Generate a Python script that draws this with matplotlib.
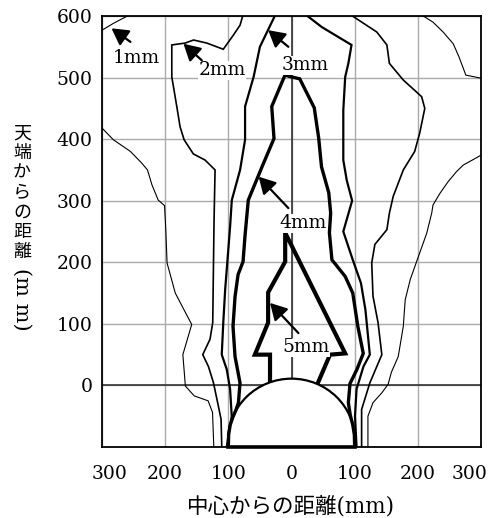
import matplotlib
matplotlib.use('Agg')
import matplotlib.pyplot as plt
from matplotlib.patches import Ellipse
from matplotlib.transforms import ScaledTranslation

plt.rcParams['font.family'] = ['DejaVu Serif', 'Noto Sans CJK JP']

# ---------------- data (mm) ----------------
x_ticks = [-300, -200, -100, 0, 100, 200, 300]
x_tick_labels = ['300', '200', '100', '0', '100', '200', '300']
y_ticks = [-100, 0, 100, 200, 300, 400, 500, 600]
y_tick_labels = ['', '0', '100', '200', '300', '400', '500', '600']

# 1mm contour (several pieces)
c1_corner_x = [-300, -282, -258]
c1_corner_y = [577, 588, 601]
c1_left_x = [-300, -282, -255, -237, -228, -221, -211, -201, -199, -197, -184, -158, -172, -168, -154, -132, -125, -123]
c1_left_y = [418, 399, 380, 361, 350, 326, 301, 292, 253, 199, 150, 99, 50, -1, -17, -25, -44, -100]
c1_rtop_x = [207, 224, 240, 256, 265, 276, 300]
c1_rtop_y = [601, 590, 574, 555, 534, 504, 499]
c1_right_x = [300, 288, 272, 261, 248, 235, 224, 222, 214, 198, 188, 180, 177, 169, 158, 153, 143, 129, 121, 121]
c1_right_y = [374, 367, 358, 347, 331, 312, 293, 280, 247, 201, 172, 139, 96, 47, 21, 2, -12, -28, -50, -100]

# 2mm contour
c2_left_x = [-77, -81.5, -92, -108, -134, -155, -168.5, -189.5, -189.5, -181.6, -176.4, -170, -155.4,
             -136.8, -121, -122.6, -124.7, -129, -140.5, -131.6, -123.7, -116.3, -111.5, -110.4]
c2_left_y = [601, 585, 569, 546, 556, 561, 556, 553, 501, 453, 420, 399, 376,
             366, 350, 269, 102, 75, 50, 31, 5, -31, -55, -100]
c2_right_x = [95, 135, 151, 155, 177, 206, 211, 203, 195, 177, 161, 155, 151, 132, 127, 129, 137, 143, 124, 111, 111]
c2_right_y = [601, 574, 553, 523, 496, 469, 450, 410, 380, 350, 307, 280, 253, 229, 199, 145, 102, 50, 4, -39, -100]

# 3mm contour
c3_left_x = [-26, -50, -60, -73.5, -73.5, -81.4, -94.5, -97.2, -105, -108, -110.4, -102.5, -97.2, -94.6, -102.5]
c3_left_y = [601, 550, 501, 453, 399, 350, 301, 258, 156, 102, 50, 26, -6, -50, -100]
c3_right_x = [24, 48, 95, 90, 85, 82, 82, 87.5, 96, 82, 97, 110, 117, 124, 114, 103, 100.5, 103]
c3_right_y = [601, 582, 553, 523, 501, 447, 366, 333, 300, 250, 204, 166, 123, 50, 31, -6, -50, -100]

# 4mm contour
c4_x = [-100, -99.5, -97, -93, -88, -84, -81.5, -84.6, -89.4, -92.6, -89.4, -84.6, -76.7, -73.6, -68.4,
        -46.7, -27.7, -31.3, -10.3, 0, 13, 36, 43, 47.5, 59, 62, 60, 64, 85, 97, 105, 113.6, 103.6,
        92.6, 90, 93, 97, 99.5, 100]
c4_y = [-100, -80, -64, -52, -40, -28, 4, 21, 47, 96, 144, 180, 201, 243, 301,
        355, 401, 453, 504, 501, 498, 451, 402, 355, 313, 280, 248, 204, 177, 150, 96, 52, 26,
        3, -28, -48, -64, -80, -100]

# 5mm contour
c5_x = [-34, -34, -58, -37, -37, -10, -10, 85, 61, 38]
c5_y = [-5, 50, 50, 102, 151, 201, 248, 52, 50, -5]

# labels (text position, arrow tail, arrow head)
lab_text = ['1mm', '2mm', '3mm', '4mm', '5mm']
lab_x = [-246, -110, 21, 18, 23]
lab_y = [532, 512, 520, 263, 62]
arr_tail_x = [-255, -142, -5, -5, 11]
arr_tail_y = [558, 528, 550, 288, 85]
arr_head_x = [-285, -171, -37, -52, -34]
arr_head_y = [580, 555, 577, 339, 134]

# ---------------- figure ----------------
fig = plt.figure(figsize=(4.99, 5.18), dpi=100)
ax = fig.add_axes([102 / 499, 1 - 447 / 518, 379 / 499, 431 / 518])
ax.set_xlim(-300, 300)
ax.set_ylim(-100, 600)
ax.set_xticks(x_ticks)
ax.set_xticklabels(x_tick_labels)
ax.set_yticks(y_ticks)
ax.set_yticklabels(y_tick_labels)
ax.set_axisbelow(True)
ax.grid(color='#aaaaaa', lw=1.0)
ax.axhline(0, color='#333333', lw=1.2, zorder=1)
ax.axvline(0, color='#333333', lw=1.2, zorder=1)
ax.tick_params(axis='both', length=0, labelsize=13.5)
ax.tick_params(axis='x', pad=13)
ax.tick_params(axis='y', pad=7)
for sp in ax.spines.values():
    sp.set_linewidth(1.3)
    sp.set_color('black')

# shift end x tick labels inward like the reference
xl = ax.get_xticklabels()
xl[0].set_transform(xl[0].get_transform() + ScaledTranslation(8 / 100, 0, fig.dpi_scale_trans))
xl[-1].set_transform(xl[-1].get_transform() + ScaledTranslation(-11 / 100, 0, fig.dpi_scale_trans))

k = dict(color='black', solid_joinstyle='miter')
for xs, ys in [(c1_corner_x, c1_corner_y), (c1_left_x, c1_left_y), (c1_rtop_x, c1_rtop_y), (c1_right_x, c1_right_y)]:
    ax.plot(xs, ys, lw=0.8, zorder=3, **k)
for xs, ys in [(c2_left_x, c2_left_y), (c2_right_x, c2_right_y)]:
    ax.plot(xs, ys, lw=1.2, zorder=3, **k)
for xs, ys in [(c3_left_x, c3_left_y), (c3_right_x, c3_right_y)]:
    ax.plot(xs, ys, lw=1.6, zorder=3, **k)
ax.plot(c5_x, c5_y, lw=3.0, zorder=4, **k)

# semicircle (flame source)
ax.add_patch(Ellipse((0, -89.5), 201, 201, fc='white', ec='black', lw=1.6, zorder=5))
ax.plot(c4_x, c4_y, lw=2.4, zorder=6, **k)
ax.plot([-100, 100], [-100, -100], lw=2.6, color='black', zorder=6, clip_on=False)

for t, tx, ty, ax0, ay0, hx, hy in zip(lab_text, lab_x, lab_y, arr_tail_x, arr_tail_y, arr_head_x, arr_head_y):
    ax.text(tx, ty, t, ha='center', va='center', fontsize=13.5, zorder=7,
            bbox=dict(fc='white', ec='none', pad=0.3))
    ax.annotate('', xy=(hx, hy), xytext=(ax0, ay0), zorder=8,
                arrowprops=dict(arrowstyle='-|>,head_length=0.5,head_width=0.28',
                                color='black', lw=1.6, shrinkA=0, shrinkB=0, mutation_scale=20))

# x label
fig.text(291.5 / 499, 1 - 506 / 518, '中心からの距離(mm)', ha='center', va='center', fontsize=15.5)

# vertical y label
ychars = ['天', '端', 'か', 'ら', 'の', '距', '離']
for i, ch in enumerate(ychars):
    fig.text(22 / 499, 1 - (133.5 + 19.7 * i) / 518, ch, ha='center', va='center',
             fontsize=13, family=['Noto Sans CJK JP'])
fig.text(22 / 499, 1 - 299 / 518, '(m m)', ha='center', va='center', rotation=-90, fontsize=15)

fig.savefig('out.png', dpi=100)
